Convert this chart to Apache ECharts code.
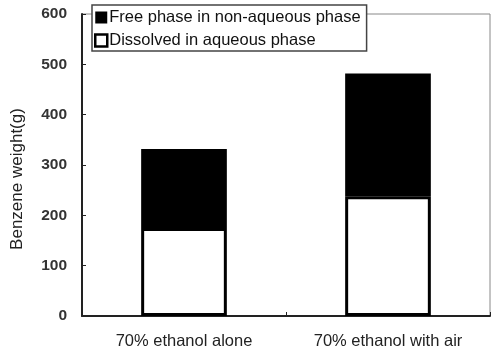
<!DOCTYPE html>
<html>
<head>
<meta charset="utf-8">
<script src="https://cdn.jsdelivr.net/npm/echarts@6/dist/echarts.min.js"></script>
<style>
  html, body { margin: 0; padding: 0; background: #fff; }
  #chart { width: 495px; height: 355px; }
</style>
</head>
<body>
<div id="chart"></div>
<script>
// Benzene recovered per treatment, split by phase (g)
const categories = ['70% ethanol alone', '70% ethanol with air'];
const dissolved = [175, 238];
const freePhase = [157, 244];
const yTicks = { min: 0, max: 600, interval: 100 };

const FONT = '"Liberation Sans", Arial, sans-serif';
const chart = echarts.init(document.getElementById('chart'));

chart.setOption({
  animation: false,
  backgroundColor: '#fff',
  textStyle: { fontFamily: FONT },
  grid: {
    left: 82, right: 5, top: 14, bottom: 39,
    show: true, borderColor: '#888', borderWidth: 1, backgroundColor: 'transparent'
  },
  legend: {
    orient: 'vertical',
    left: 92, top: 5,
    itemWidth: 12, itemHeight: 12, itemGap: 6,
    padding: [4, 6, 2, 2],
    backgroundColor: '#fff',
    borderColor: '#444', borderWidth: 1.5,
    textStyle: { fontFamily: FONT, fontSize: 16.5, color: '#111', padding: [0, 0, 0, -3] },
    data: [
      { name: 'Free phase in non-aqueous phase', icon: 'rect',
        itemStyle: { color: '#000', borderColor: '#000', borderWidth: 0 } },
      { name: 'Dissolved in aqueous phase', icon: 'rect',
        itemStyle: { color: '#fff', borderColor: '#000', borderWidth: 2.5 } }
    ],
    z: 10
  },
  xAxis: {
    type: 'category',
    data: categories,
    axisLine: { lineStyle: { color: '#222', width: 2 } },
    axisTick: { show: true, inside: true, length: 4, lineStyle: { color: '#222' } },
    axisLabel: { fontFamily: FONT, fontSize: 16.5, color: '#222', margin: 17 }
  },
  yAxis: {
    type: 'value',
    min: yTicks.min, max: yTicks.max, interval: yTicks.interval,
    name: 'Benzene weight(g)',
    nameLocation: 'middle',
    nameGap: 56,
    nameTextStyle: { fontFamily: FONT, fontSize: 17, color: '#222', padding: [0, 28, 0, 0] },
    axisLine: { show: true, lineStyle: { color: '#222', width: 2 } },
    axisTick: { show: true, inside: true, length: 4, lineStyle: { color: '#222' } },
    splitLine: { show: false },
    axisLabel: { fontFamily: FONT, fontSize: 15.5, fontWeight: 'bold', color: '#333', margin: 15 }
  },
  series: [
    {
      name: 'Dissolved in aqueous phase',
      type: 'bar',
      stack: 'total',
      barWidth: '42%',
      data: dissolved,
      itemStyle: { color: '#fff', borderColor: '#000', borderWidth: 3 }
    },
    {
      name: 'Free phase in non-aqueous phase',
      type: 'bar',
      stack: 'total',
      barWidth: '42%',
      data: freePhase,
      itemStyle: { color: '#000', borderColor: '#000', borderWidth: 3 }
    }
  ]
});
</script>
</body>
</html>
